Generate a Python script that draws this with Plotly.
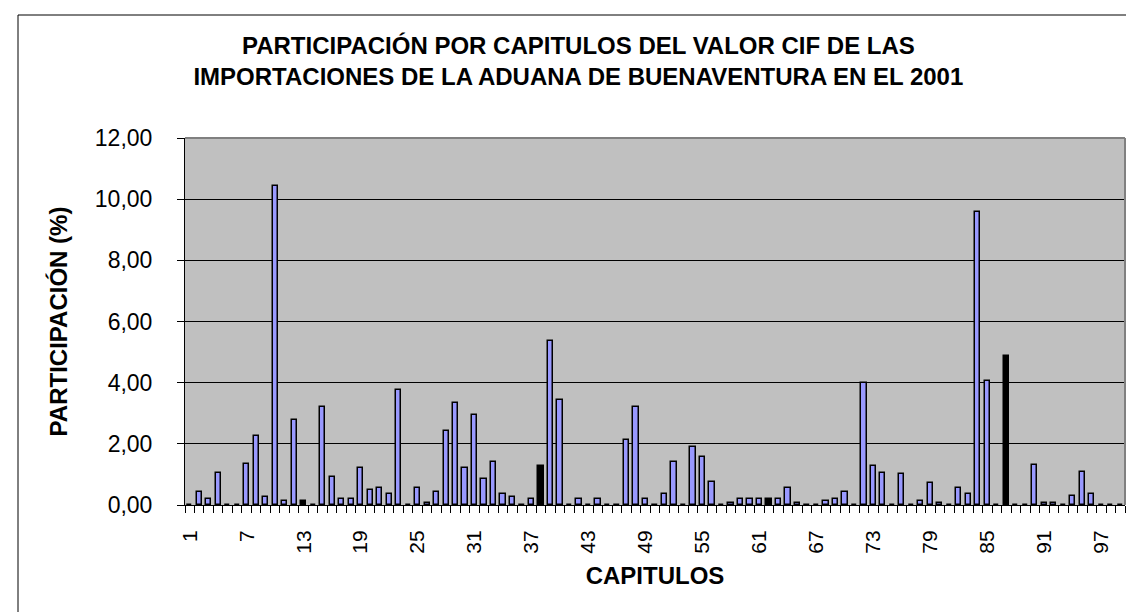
import plotly.graph_objects as go

# ---- data ----
capitulos = list(range(1, 100))
participacion = [
    0.00, 0.41, 0.20, 1.06, 0.00, 0.00, 1.33, 2.27, 0.27, 10.42,   # 1-10
    0.13, 2.77, 0.13, 0.00, 3.21, 0.90, 0.20, 0.20, 1.20, 0.48,    # 11-20
    0.55, 0.35, 3.76, 0.00, 0.55, 0.05, 0.41, 2.42, 3.35, 1.20,    # 21-30
    2.93, 0.85, 1.42, 0.35, 0.27, 0.00, 0.20, 1.28, 5.35, 3.43,    # 31-40
    0.00, 0.20, 0.00, 0.20, 0.00, 0.00, 2.13, 3.21, 0.20, 0.00,    # 41-50
    0.35, 1.42, 0.00, 1.91, 1.56, 0.76, 0.00, 0.05, 0.20, 0.20,    # 51-60
    0.20, 0.20, 0.20, 0.55, 0.05, 0.00, 0.00, 0.13, 0.20, 0.42,    # 61-70
    0.00, 4.00, 1.28, 1.06, 0.00, 1.00, 0.00, 0.13, 0.72, 0.05,    # 71-80
    0.00, 0.56, 0.36, 9.57, 4.07, 0.00, 4.86, 0.00, 0.00, 1.30,    # 81-90
    0.06, 0.06, 0.00, 0.31, 1.07, 0.36, 0.00, 0.00, 0.00,          # 91-99
]
capitulos_negros = [13, 38, 62, 87]
etiquetas_x = list(range(1, 98, 6))
valores_y = [0, 2, 4, 6, 8, 10, 12]

titulo = ("PARTICIPACIÓN POR CAPITULOS DEL VALOR CIF DE LAS<br>"
          "IMPORTACIONES DE LA ADUANA DE BUENAVENTURA EN EL 2001")
titulo_x = "CAPITULOS"
titulo_y = "PARTICIPACIÓN (%)"

FONT = "Liberation Sans, Arial, sans-serif"
W, H = 1134, 612
ML, MR, MT, MB = 177, 17, 130, 115
PW = W - ML - MR
PH = H - MT - MB

colores = ["#000000" if c in capitulos_negros else "#9999FF" for c in capitulos]

fig = go.Figure(
    go.Bar(
        x=capitulos,
        y=participacion,
        width=0.55,
        marker=dict(color=colores, line=dict(color="black", width=1.5)),
        hoverinfo="x+y",
    )
)

def px_to_paper_x(px):
    return (px - ML) / PW

def px_to_paper_y(py):
    return (H - MB - py) / PH

fig.update_layout(
    width=W,
    height=H,
    margin=dict(l=ML, r=MR, t=MT, b=MB),
    paper_bgcolor="white",
    plot_bgcolor="#C0C0C0",
    separators=", ",
    font=dict(family=FONT, color="black", size=20),
    showlegend=False,
    bargap=0,
    title=dict(
        text="<b>" + titulo + "</b>",
        x=0.503,
        xanchor="center",
        y=1 - 46 / H,
        yanchor="top",
        font=dict(family=FONT, size=24, color="black"),
    ),
    xaxis=dict(
        range=[0.5, 99.5],
        tickmode="array",
        tickvals=etiquetas_x,
        ticktext=[str(v) for v in etiquetas_x],
        tickangle=-90,
        ticks="",
        ticklabelstandoff=16,
        tickfont=dict(size=21),
        showline=True,
        linecolor="black",
        linewidth=1,
        showgrid=False,
        zeroline=False,
        automargin=False,
        minor=dict(
            tickmode="array",
            tickvals=[c - 0.5 for c in capitulos] + [capitulos[-1] + 0.5],
            ticks="outside",
            ticklen=7,
            tickcolor="black",
            tickwidth=1,
            showgrid=False,
        ),
        title=dict(
            text="<b>" + titulo_x + "</b>",
            font=dict(size=24),
            standoff=14,
        ),
    ),
    yaxis=dict(
        range=[0, 12],
        tickmode="array",
        tickvals=valores_y,
        tickformat=".2f",
        ticks="outside",
        ticklen=7,
        tickcolor="black",
        ticklabelstandoff=20,
        tickfont=dict(size=23),
        showline=True,
        linecolor="black",
        linewidth=1,
        showgrid=True,
        gridcolor="black",
        gridwidth=1,
        zeroline=False,
        automargin=False,
        title=dict(
            text="<b>" + titulo_y + "</b>",
            font=dict(size=24),
            standoff=20,
        ),
    ),
    shapes=[
        # gray top and right border of the plot area
        dict(type="line", xref="paper", yref="paper", x0=0, x1=1, y0=1, y1=1,
             line=dict(color="#808080", width=2), layer="above"),
        dict(type="line", xref="paper", yref="paper", x0=1, x1=1, y0=0, y1=1,
             line=dict(color="#808080", width=2), layer="above"),
        # chart frame
        dict(type="rect", xref="paper", yref="paper",
             x0=px_to_paper_x(10), x1=px_to_paper_x(1133),
             y0=px_to_paper_y(611), y1=px_to_paper_y(7),
             line=dict(color="black", width=1), fillcolor="rgba(0,0,0,0)",
             layer="below"),
    ],
)

fig.write_html("out.html")
